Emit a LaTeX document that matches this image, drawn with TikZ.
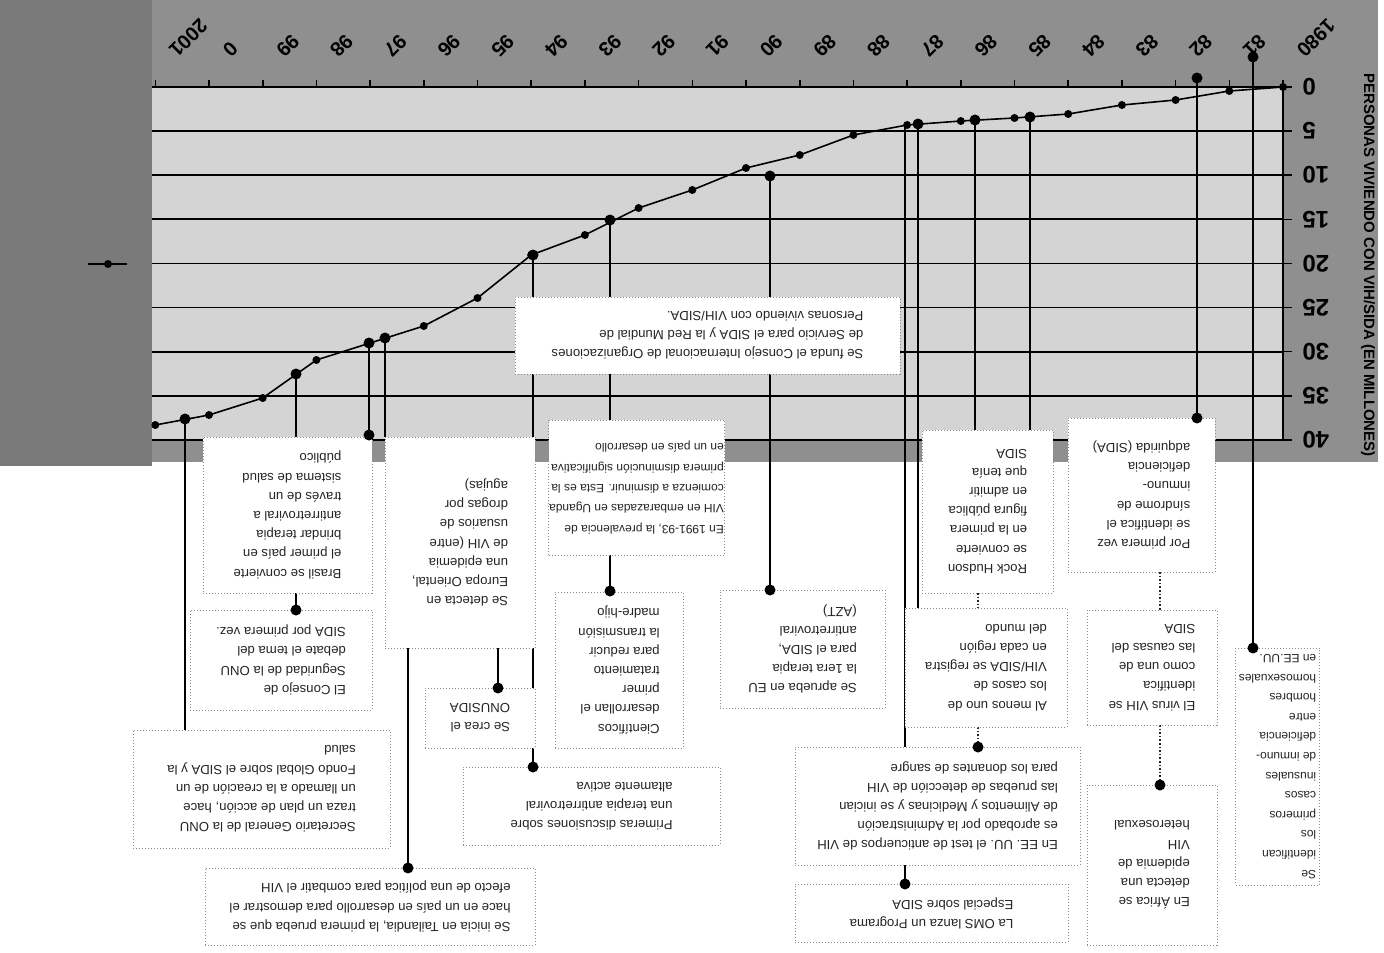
\documentclass[tikz,border=0pt]{standalone}
\usepackage{fontspec}
\setmainfont{Liberation Sans}
\definecolor{bgA}{gray}{0.56}
\definecolor{bgB}{gray}{0.48}
\definecolor{plotbg}{gray}{0.83}
\begin{document}
\begin{tikzpicture}[x=0.5pt,y=-0.5pt,
 box/.style={draw=black!45, densely dotted, line width=0.5pt, fill=white, rotate=180, inner sep=0pt, align=left, text=black!85, font=\fontsize{6.6}{9.6}\selectfont},
 link/.style={line width=1pt, black},
 chain/.style={line width=0.8pt, densely dotted, black!85},
 dot/.style={circle, fill=black, inner sep=0pt, minimum size=5.5pt},
 datamark/.style={circle, fill=black, inner sep=0pt, minimum size=4pt},
 yearlab/.style={rotate=225, anchor=east, inner sep=0pt, font=\fontsize{10}{10}\selectfont\bfseries},
 vallab/.style={rotate=180, anchor=east, inner sep=0pt, font=\fontsize{12}{12}\selectfont\bfseries}]
\useasboundingbox (0,0) rectangle (1384,952);
\fill[white] (0,0) rectangle (1384,952);
% backgrounds
\fill[bgA] (0,0) rectangle (1378,462);
\fill[bgB] (0,0) rectangle (152,466);
\fill[plotbg] (152,87) rectangle (1283,440);
% grid
\foreach \k in {1,...,8} \draw[line width=0.9pt] (152,87+44.1*\k) -- (1283,87+44.1*\k);
\draw[line width=0.9pt] (152,87) -- (1283,87);
\foreach \k in {0,...,21} \draw[line width=0.8pt] (1283-53.7*\k,87) -- ++(0,-7);
\draw[line width=0.9pt] (1283,87) -- (1283,440);
\foreach \k in {0,...,8} \draw[line width=0.8pt] (1283,87+44.1*\k) -- ++(9,0);
% axis labels
\foreach \v [count=\k from 0] in {0,5,10,15,20,25,30,35,40}
  \node[vallab] (v\k) at (1302,87+44.1*\k) {\v};
\foreach \t [count=\k from 0] in {1980,81,82,83,84,85,86,87,88,89,90,91,92,93,94,95,96,97,98,99,0,2001}
  \node[yearlab] (y\k) at (1283-53.7*\k+17,54) {\t};
\node[rotate=-90, font=\fontsize{7.5}{8}\selectfont\bfseries] (ytitle) at (1368,265) {PERSONAS VIVIENDO CON VIH/SIDA (EN MILLONES)};
% legend marker
\draw[line width=0.9pt] (88,264) -- (127,264);
\node[datamark] (leg) at (108,264) {};
% data curve
\draw[line width=0.8pt] plot coordinates {(1283,87) (1229.3,91) (1175.6,100) (1121.9,105) (1068.2,114) (1014.5,118) (960.8,121) (907.1,125) (853.4,135) (799.7,155) (746,168) (692.3,190) (638.6,208) (584.9,235) (531.2,255) (477.5,298) (423.8,326) (370.1,343) (316.4,360) (262.7,398) (209,415) (155.3,425)};
% connector end points
\coordinate (t01) at (185,419);  \coordinate (e01) at (185,730);
\coordinate (t99) at (296,374);  \coordinate (e99) at (296,610);
\coordinate (t97a) at (369,343); \coordinate (e97a) at (369,435);
\coordinate (t97b) at (385,338); \coordinate (e97b) at (385,437);
\coordinate (t94) at (533,255);  \coordinate (e94) at (533,767);
\coordinate (t93) at (610,220);  \coordinate (e93) at (610,591);
\coordinate (t90) at (770,176);  \coordinate (e90) at (770,590);
\coordinate (t87) at (905,125);  \coordinate (e87) at (905,884);
\coordinate (t86b) at (918,124); \coordinate (e86b) at (918,608);
\coordinate (t86) at (975,120);  \coordinate (e86) at (975,430);
\coordinate (t85) at (1030,117); \coordinate (e85) at (1030,430);
\coordinate (t82) at (1197,78);  \coordinate (e82) at (1197,418);
\coordinate (t81) at (1253,57);  \coordinate (e81) at (1253,648);
\foreach \a/\b in {t01/e01,t99/e99,t97a/e97a,t97b/e97b,t94/e94,t93/e93,t90/e90,t87/e87,t86b/e86b,t86/e86,t85/e85,t82/e82,t81/e81}
  \draw[link] (\a) -- (\b);
% chain connectors
\coordinate (c1a) at (978,593); \coordinate (c1b) at (978,608);
\coordinate (c2a) at (978,727); \coordinate (c2b) at (978,747);
\coordinate (c3a) at (1160,572); \coordinate (c3b) at (1160,610);
\coordinate (c4a) at (1160,725); \coordinate (c4b) at (1160,785);
\coordinate (c5a) at (408,648); \coordinate (c5b) at (408,868);
\coordinate (c6a) at (498,648); \coordinate (c6b) at (498,688);
\foreach \a/\b in {c1a/c1b,c2a/c2b,c3a/c3b,c4a/c4b}
  \draw[chain] (\a) -- (\b);
\draw[link] (c5a) -- (c5b);
\draw[link] (c6a) -- (c6b);
% boxes
\node[box, minimum width=192.5pt, minimum height=38.5pt] (cons) at (707.5,335.5) {Se funda el Consejo Internacional de Organizaciones\\de Servicio para el SIDA y la Red Mundial de\\Personas viviendo con VIH/SIDA.};
\node[box, minimum width=65.5pt, minimum height=81.5pt] (hudson) at (987.5,511.5) {Rock Hudson\\se convierte\\en la primera\\figura pública\\en admitir\\que tenía\\SIDA};
\node[box, minimum width=73.5pt, minimum height=77pt] (primera) at (1141.5,495) {Por primera vez\\se identifica el\\síndrome de\\inmuno-\\deficiencia\\adquirida (SIDA)};
\node[box, minimum width=65pt, minimum height=57.5pt] (virus) at (1152,667.5) {El virus VIH se\\identifica\\como una de\\las causas del\\SIDA};
\node[box, minimum width=65pt, minimum height=80pt] (africa) at (1152,865) {En África se\\detecta una\\epidemia de\\VIH\\heterosexual};
\node[box, minimum width=42pt, minimum height=118.5pt, font=\fontsize{6}{9.8}\selectfont] (casos) at (1277.5,766.5) {Se\\identifican\\los\\primeros\\casos\\inusuales\\de inmuno-\\deficiencia\\entre\\hombres\\homosexuales\\en EE.UU.};
\node[box, minimum width=81pt, minimum height=59.5pt] (almenos) at (986,667.5) {Al menos uno de\\los casos de\\VIH/SIDA se registra\\en cada región\\del mundo};
\node[box, minimum width=142.5pt, minimum height=59pt] (test) at (937.5,806) {En EE. UU. el test de anticuerpos de VIH\\es aprobado por la Administración\\de Alimentos y Medicinas y se inician\\las pruebas de detección de VIH\\para los donantes de sangre};
\node[box, minimum width=136.5pt, minimum height=29pt] (oms) at (931.5,913) {La OMS lanza un Programa\\Especial sobre SIDA};
\node[box, minimum width=82.5pt, minimum height=59pt] (azt) at (802.5,649) {Se aprueba en EU\\la 1era terapia\\para el SIDA,\\antirretroviral\\(AZT)};
\node[box, minimum width=88pt, minimum height=67.5pt, font=\fontsize{6}{10.2}\selectfont] (uganda) at (636.5,487.5) {En 1991-93, la prevalencia de\\VIH en embarazadas en Uganda\\comienza a disminuir. Esta es la\\primera disminución significativa\\en un país en desarrollo};
\node[box, minimum width=64pt, minimum height=78pt] (cientif) at (619,670) {Científicos\\desarrollan el\\primer\\tratamiento\\para reducir\\la transmisión\\madre-hijo};
\node[box, minimum width=55pt, minimum height=30pt] (onusida) at (480,718) {Se crea el\\ONUSIDA};
\node[box, minimum width=75pt, minimum height=105.5pt] (europa) at (460,542.5) {Se detecta en\\Europa Oriental,\\una epidemia\\de VIH (entre\\usuarios de\\drogas por\\agujas)};
\node[box, minimum width=128.5pt, minimum height=39pt] (primeras) at (591.5,806) {Primeras discusiones sobre\\una terapia antirretroviral\\altamente activa};
\node[box, minimum width=165pt, minimum height=38.5pt] (tailandia) at (370,906.5) {Se inicia en Tailandia, la primera prueba que se\\hace en un país en desarrollo para demostrar el\\efecto de una política para combatir el VIH};
\node[box, minimum width=84.5pt, minimum height=78pt] (brasil) at (287.5,515) {Brasil se convierte\\el primer país en\\brindar terapia\\antirretroviral a\\través de un\\sistema de salud\\público};
\node[box, minimum width=91pt, minimum height=50pt] (consejo) at (281,660) {El Consejo de\\Seguridad de la ONU\\debate el tema del\\SIDA por primera vez.};
\node[box, minimum width=128.5pt, minimum height=59pt] (annan) at (261.5,789) {Secretario General de la ONU\\traza un plan de acción, hace\\un llamado a la creación de un\\Fondo Global sobre el SIDA y la\\salud};
% data markers
\foreach \p in {(1283,87),(1229.3,91),(1175.6,100),(1121.9,105),(1068.2,114),(1014.5,118),(960.8,121),(907.1,125),(853.4,135),(799.7,155),(746,168),(692.3,190),(638.6,208),(584.9,235),(531.2,255),(477.5,298),(423.8,326),(370.1,343),(316.4,360),(262.7,398),(209,415),(155.3,425)}
  \node[datamark] at \p {};
% connector dots
\foreach \c in {t01,t99,t97a,t97b,t94,t93,t90,t86b,t86,t85,t82,t81,e99,e97a,e94,e93,e90,e87,e82,e81,c2b,c4b,c5b,c6b}
  \node[dot] at (\c) {};
\end{tikzpicture}
\end{document}
